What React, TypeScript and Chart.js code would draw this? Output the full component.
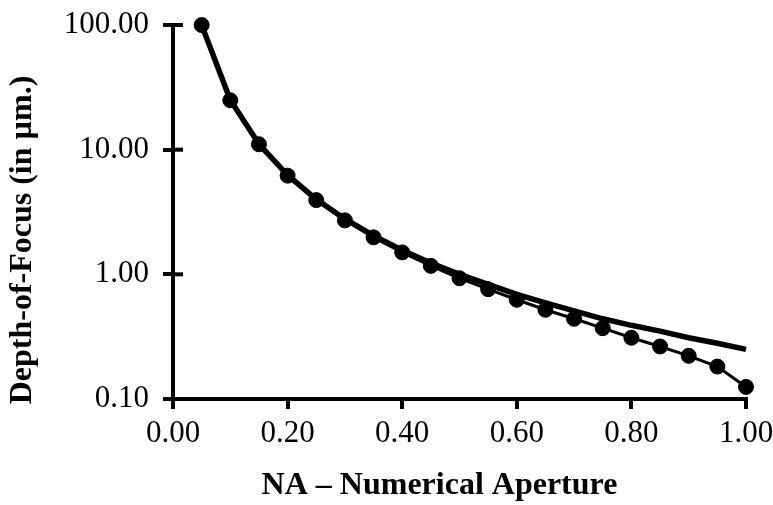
import React, { useEffect, useRef } from "react";
import { Chart, registerables } from "chart.js";

Chart.register(...registerables);

const naValues = [0.05, 0.1, 0.15, 0.2, 0.25, 0.3, 0.35, 0.4, 0.45, 0.5, 0.55, 0.6, 0.65, 0.7, 0.75, 0.8, 0.85, 0.9, 0.95, 1.0];
const dofMarked = [99.9, 24.9, 11.05, 6.19, 3.94, 2.71, 1.98, 1.5, 1.17, 0.93, 0.76, 0.625, 0.52, 0.44, 0.37, 0.31, 0.264, 0.222, 0.182, 0.125];
const dofLine = [100, 25, 11.1, 6.25, 4.0, 2.78, 2.04, 1.56, 1.23, 1.0, 0.83, 0.69, 0.59, 0.51, 0.44, 0.39, 0.35, 0.31, 0.28, 0.25];
const yTickValues = [0.1, 1, 10, 100];
const xTitle = "NA – Numerical Aperture";
const yTitle = "Depth-of-Focus (in µm.)";

const innerTicks = {
  id: "innerTicks",
  afterDraw(chart: any) {
    const y = chart.scales.y;
    const ctx = chart.ctx;
    ctx.save();
    ctx.strokeStyle = "#000";
    ctx.lineWidth = 4;
    for (const v of yTickValues) {
      const py = y.getPixelForValue(v);
      if (v === yTickValues[0]) continue;
      ctx.beginPath();
      ctx.moveTo(chart.chartArea.left, py);
      ctx.lineTo(chart.chartArea.left + 10, py);
      ctx.stroke();
    }
    ctx.restore();
  },
};

export default function App() {
  const ref = useRef<HTMLCanvasElement>(null);
  useEffect(() => {
    if (!ref.current) return;
    const chart = new Chart(ref.current, {
      type: "line",
      data: {
        datasets: [
          {
            label: "DOF",
            data: naValues.map((x, i) => ({ x, y: dofLine[i] })),
            borderColor: "#000",
            borderWidth: 5.5,
            pointRadius: 0,
            tension: 0,
            borderJoinStyle: "round",
            fill: false,
            clip: false as any,
          },
          {
            label: "DOF (exact)",
            data: naValues.map((x, i) => ({ x, y: dofMarked[i] })),
            borderColor: "#000",
            backgroundColor: "#000",
            borderWidth: 3,
            pointRadius: 7.5,
            pointBorderWidth: 1,
            pointBackgroundColor: "#000",
            pointBorderColor: "#000",
            tension: 0,
            fill: false,
            clip: false as any,
          },
        ],
      },
      options: {
        animation: false,
        responsive: false,
        layout: { padding: { left: 0, top: 25, right: 27, bottom: 0 } },
        plugins: { legend: { display: false }, tooltip: { enabled: false } },
        scales: {
          x: {
            type: "linear",
            min: 0,
            max: 1,
            ticks: {
              stepSize: 0.2,
              color: "#000",
              font: { family: "'Liberation Serif', 'Times New Roman', serif", size: 31 },
              padding: 6,
              maxRotation: 0,
              callback: (v: any) => Number(v).toFixed(2),
            },
            grid: { display: true, drawOnChartArea: false, drawTicks: true, tickLength: 10, lineWidth: 4, color: "#000" },
            border: { display: true, width: 4, color: "#000" },
            title: {
              display: true,
              text: xTitle + "     ",
              color: "#000",
              font: { family: "'Liberation Serif', 'Times New Roman', serif", size: 32, weight: "bold" },
              padding: { top: 4, bottom: 0 },
            },
            afterFit: (s: any) => { s.height = 106; s.paddingLeft = 0; s.paddingRight = 0; },
          },
          y: {
            type: "logarithmic",
            min: 0.1,
            max: 100,
            afterBuildTicks: (s: any) => { s.ticks = yTickValues.map((v) => ({ value: v })); },
            ticks: {
              color: "#000",
              font: { family: "'Liberation Serif', 'Times New Roman', serif", size: 31 },
              padding: 14,
              callback: (v: any) => Number(v).toFixed(2),
            },
            grid: { display: true, drawOnChartArea: false, drawTicks: true, tickLength: 10, lineWidth: 4, color: "#000" },
            border: { display: true, width: 4, color: "#000" },
            title: {
              display: true,
              text: yTitle + "       ",
              color: "#000",
              font: { family: "'Liberation Serif', 'Times New Roman', serif", size: 32, weight: "bold" },
              padding: { top: 4, bottom: 0 },
            },
            afterFit: (s: any) => { s.width = 173; s.paddingTop = 0; s.paddingBottom = 0; },
          },
        },
      },
      plugins: [innerTicks],
    });
    return () => chart.destroy();
  }, []);
  return (
    <div style={{ position: "absolute", left: 0, top: 0, width: 773, height: 505, background: "#fff" }}>
      <canvas ref={ref} width={773} height={505} style={{ display: "block" }} />
    </div>
  );
}
